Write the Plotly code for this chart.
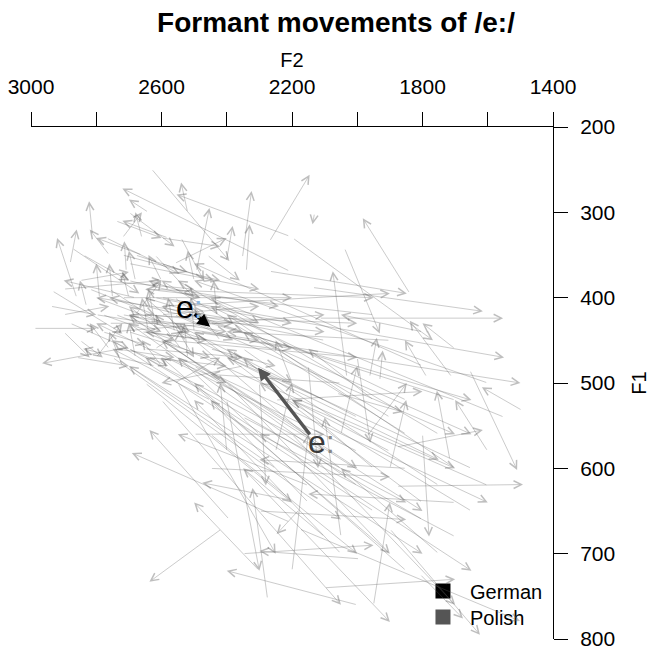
import plotly.graph_objects as go

title_text = "Formant movements of /e:/"
x_ticks = [3000, 2800, 2600, 2400, 2200, 2000, 1800, 1600, 1400]
x_tick_labels = ["3000", "", "2600", "", "2200", "", "1800", "", "1400"]
y_ticks = [200, 300, 400, 500, 600, 700, 800]

# individual German tokens: onset (F2, F1) -> offset (F2, F1)
german_f2_on = [2812, 2631, 2493, 2708, 2874, 2935, 2991, 2699, 2769, 2401, 2340, 2352, 2750, 2680, 2600, 2560,
                2850, 2700, 2620, 2780, 2540, 2660, 2500, 2800, 2720, 2580, 2650, 2600, 2900, 2760, 2700, 2540,
                2460, 2620, 2740, 2680, 2830, 2560, 2450, 2700, 2520, 2600, 2650, 2780, 2480, 2720, 2620, 2560,
                2850, 2700, 2600, 2760, 2500, 2430, 2880, 2640, 2580, 2760, 2420, 2680, 2560, 2720, 2800, 2640,
                2900, 2520, 2460, 2600, 2740, 2560, 2700, 2650, 2750, 2600, 2860, 2640,
                2820, 2780, 2700, 2660, 2880, 2740, 2600, 2840, 2560, 2720, 2680, 2620, 2790, 2500, 2940, 2860,
                2760, 2700, 2640, 2580, 2800, 2720, 2900, 2660, 2580, 2620, 2540, 2480, 2460, 2680]
german_f1_on = [326, 249, 369, 369, 342, 392, 436, 458, 330, 357, 369, 353, 400, 420, 440, 400,
                380, 460, 350, 440, 460, 330, 420, 470, 480, 470, 400, 380, 420, 350, 300, 330,
                400, 460, 420, 380, 410, 440, 460, 440, 300, 420, 460, 380, 440, 350, 400, 360,
                450, 400, 480, 460, 380, 420, 360, 440, 420, 390, 450, 350, 390, 420, 400, 470,
                440, 470, 350, 330, 310, 500, 420, 390, 440, 410, 400, 300,
                390, 420, 380, 440, 430, 460, 360, 350, 420, 330, 470, 430, 400, 440, 410, 470,
                430, 360, 420, 450, 420, 400, 390, 350, 330, 480, 420, 400, 450, 400]
german_f2_off = [2822, 2392, 2453, 2714, 2668, 2720, 2800, 2966, 2545, 2382, 2330, 2324, 2760, 2600, 2700, 2450,
                 2700, 2580, 2500, 2650, 2620, 2680, 2350, 2720, 2760, 2400, 2480, 2640, 2760, 2820, 2560, 2470,
                 2300, 2540, 2600, 2700, 2850, 2580, 2250, 2450, 2540, 2300, 2350, 2500, 2200, 2420, 2200, 2400,
                 2780, 2720, 2660, 2820, 2520, 2440, 2860, 2660, 2500, 2600, 2500, 2520, 2240, 2400, 2520, 2400,
                 2820, 2530, 2360, 2420, 2600, 2420, 2000, 1950, 2100, 1900, 2920, 2700,
                 2620, 2560, 2480, 2460, 2700, 2560, 2440, 2700, 2380, 2660, 2700, 2640, 2800, 2510, 2800, 2700,
                 2380, 2300, 2100, 2000, 2300, 2200, 2600, 2800, 2720, 2840, 2760, 2640, 2700, 2900]
german_f1_off = [287, 357, 295, 334, 395, 442, 436, 477, 372, 316, 314, 275, 360, 380, 410, 430,
                 370, 480, 400, 455, 420, 300, 440, 430, 440, 500, 420, 350, 410, 320, 340, 380,
                 430, 440, 440, 345, 380, 400, 480, 470, 265, 410, 470, 390, 460, 380, 430, 330,
                 470, 370, 450, 430, 345, 380, 320, 400, 470, 430, 410, 370, 410, 440, 440, 480,
                 470, 430, 380, 340, 330, 470, 430, 400, 420, 395, 330, 285,
                 420, 450, 400, 450, 460, 470, 380, 380, 450, 300, 430, 390, 360, 400, 420, 480,
                 430, 390, 440, 470, 450, 400, 380, 330, 310, 460, 400, 380, 420, 380]

# individual Polish tokens
polish_f2_on = [2207, 2207, 2269, 2131, 1839, 2039, 2269, 2137, 2116, 2198, 1710, 1787, 1962, 1931, 2032, 1495,
                1655, 1716, 1971, 2063, 1879, 1879, 2416, 2392, 2207, 2275, 1993, 2177, 2207, 2177, 1808, 1900,
                1800, 1700, 1900, 2000, 1750, 2100, 1850, 1950, 2050, 1650, 2150, 1800, 2250, 2000, 1900, 2100,
                2300, 1750, 2600, 2500, 2700, 2400, 2550, 2350, 2650, 2450, 2200, 2050, 1950, 2300, 2150, 1800,
                2400, 2000, 2300, 2450, 2350, 2100, 2500, 2250, 1850, 1700, 2000, 2150, 2050, 1900, 2100, 1950,
                2250, 2300, 2450, 2350, 1600,
                1700, 1600, 1550, 1650, 1800, 1850, 1950, 1750, 1600, 2050, 1900, 2000, 1700, 2150, 1850,
                2650, 2550, 2700, 2450, 2500, 2600, 2750, 2400, 2300, 2600, 2350, 2200, 2450, 2550, 2400,
                2300, 2100, 1950, 1800, 1700, 2200, 2050, 1900, 2250, 2350]
polish_f1_on = [369, 328, 334, 301, 395, 342, 369, 388, 424, 330, 493, 493, 493, 497, 493, 532,
                485, 590, 563, 512, 621, 575, 671, 660, 663, 753, 706, 648, 637, 671, 724, 671,
                640, 600, 700, 620, 560, 580, 520, 600, 700, 650, 560, 480, 600, 540, 580, 520,
                560, 700, 450, 480, 460, 500, 420, 540, 500, 430, 720, 680, 760, 500, 480, 560,
                580, 470, 650, 600, 700, 740, 560, 520, 600, 640, 760, 620, 500, 450, 450, 420,
                460, 430, 520, 480, 580,
                520, 500, 540, 600, 660, 720, 650, 620, 620, 600, 540, 580, 680, 640, 560,
                440, 470, 480, 520, 440, 400, 470, 470, 450, 520, 600, 560, 560, 500, 520,
                720, 680, 520, 440, 460, 500, 560, 600, 580, 460]
polish_f2_off = [2720, 2554, 2146, 2137, 1983, 1931, 1848, 1615, 1553, 1768, 1839, 1854, 1940, 1922, 2075, 1618,
                 1510, 1756, 1848, 1860, 1492, 1615, 2637, 2637, 2691, 2321, 2300, 2247, 2475, 1501, 1676, 1624,
                 2500, 2400, 2600, 2700, 2550, 2650, 2450, 2350, 2500, 2300, 2600, 2500, 2700, 2560, 2200, 2400,
                 2550, 2050, 2000, 1800, 2100, 1900, 1700, 1850, 2200, 1650, 2150, 2100, 1900, 2280, 2120, 1780,
                 2420, 1960, 1850, 1900, 1950, 1700, 2100, 1800, 2300, 2150, 2400, 2550, 2450, 2400, 2500, 2650,
                 2650, 2800, 2750, 2600, 1700,
                 2600, 2500, 2450, 2550, 2650, 2500, 2750, 2400, 2200, 2700, 2600, 2800, 2300, 2450, 2350,
                 1700, 1600, 1800, 1650, 1500, 1550, 2050, 1750, 1650, 2050, 1900, 1700, 2000, 2250, 2300,
                 2500, 2350, 2150, 2050, 1800, 2250, 2000, 1850, 2200, 2200]
polish_f1_off = [272, 279, 256, 314, 307, 442, 395, 416, 424, 450, 427, 450, 447, 462, 369, 505,
                 602, 509, 500, 534, 619, 555, 733, 555, 582, 623, 697, 677, 617, 779, 776, 795,
                 440, 420, 470, 430, 380, 400, 410, 470, 520, 500, 450, 360, 480, 430, 520, 470,
                 470, 600, 600, 650, 580, 700, 560, 640, 640, 520, 560, 540, 640, 620, 600, 680,
                 500, 570, 660, 610, 690, 730, 560, 510, 590, 630, 720, 560, 490, 440, 420, 390,
                 440, 400, 460, 500, 520,
                 410, 380, 400, 440, 470, 500, 450, 460, 520, 420, 380, 430, 560, 520, 440,
                 600, 640, 700, 720, 500, 470, 660, 590, 560, 760, 780, 760, 700, 700, 720,
                 640, 600, 460, 420, 430, 450, 480, 520, 500, 500]

# mean trajectories [onset, offset]
german_mean_f2 = [2503, 2451]
german_mean_f1 = [418, 434]
polish_mean_f2 = [2142, 2304]
polish_mean_f1 = [562, 482]

token_color = "rgba(95,95,95,0.40)"
german_color = "#000000"
polish_color = "#555555"

fig = go.Figure()

# legend entries (points lie outside the axis ranges, only the legends show them)
fig.add_trace(go.Scatter(x=[1000], y=[1000], mode="markers", name="German", legend="legend",
                         marker=dict(symbol="square", size=15, color=german_color)))
fig.add_trace(go.Scatter(x=[1000], y=[1000], mode="markers", name="Polish", legend="legend2",
                         marker=dict(symbol="square", size=15, color=polish_color)))

annotations = []


def add_arrows(f2a, f1a, f2b, f1b, color, width, head, size):
    for xs, ys, xe, ye in zip(f2a, f1a, f2b, f1b):
        annotations.append(dict(
            x=xe, y=ye, ax=xs, ay=ys, xref="x", yref="y", axref="x", ayref="y",
            text="", showarrow=True, arrowhead=head, arrowsize=size,
            arrowwidth=width, arrowcolor=color, standoff=0, startstandoff=0))


add_arrows(german_f2_on, german_f1_on, german_f2_off, german_f1_off, token_color, 0.8, 5, 1.9)
add_arrows(polish_f2_on, polish_f1_on, polish_f2_off, polish_f1_off, token_color, 0.8, 5, 1.9)

add_arrows([german_mean_f2[0]], [german_mean_f1[0]], [german_mean_f2[1]], [german_mean_f1[1]],
           german_color, 3.4, 2, 0.75)
add_arrows([polish_mean_f2[0]], [polish_mean_f1[0]], [polish_mean_f2[1]], [polish_mean_f1[1]],
           polish_color, 3.4, 2, 0.75)

# vowel labels at the onset of the mean trajectories
annotations.append(dict(
    x=german_mean_f2[0], y=german_mean_f1[0], xref="x", yref="y",
    text="e<span style='color:#8fb8de'>:</span>", showarrow=False,
    font=dict(size=32, color=german_color), xshift=-4, yshift=6))
annotations.append(dict(
    x=polish_mean_f2[0], y=polish_mean_f1[0], xref="x", yref="y",
    text="e<span style='color:#888888'>:</span>", showarrow=False,
    font=dict(size=32, color="#3a3a3a"), xshift=11, yshift=-6))

legend_common = dict(x=0.7375, xanchor="left", yanchor="middle",
                     font=dict(size=20), itemwidth=44, bgcolor="rgba(0,0,0,0)")

fig.update_layout(
    width=653, height=653,
    margin=dict(l=31, r=100, t=127, b=14, autoexpand=False),
    paper_bgcolor="white", plot_bgcolor="white",
    font=dict(family="Liberation Sans, Arial, sans-serif", color="black", size=20),
    title=dict(text="<b>" + title_text + "</b>", x=336 / 653, xanchor="center",
               y=1 - 22 / 653, yanchor="middle", font=dict(size=28)),
    xaxis=dict(range=[3000, 1400], side="top", tickvals=x_ticks, ticktext=x_tick_labels,
               ticks="outside", ticklen=14, tickwidth=1, tickcolor="black",
               showline=True, linecolor="black", linewidth=1, automargin=False,
               showgrid=False, zeroline=False, tickfont=dict(size=21),
               ticklabelstandoff=10,
               title=dict(text="F2", standoff=1, font=dict(size=20))),
    yaxis=dict(range=[800, 200], side="right", tickvals=y_ticks,
               ticks="outside", ticklen=14, tickwidth=1, tickcolor="black",
               showline=True, linecolor="black", linewidth=1, automargin=False,
               showgrid=False, zeroline=False, tickfont=dict(size=21),
               ticklabelstandoff=8,
               title=dict(text="F1", standoff=17, font=dict(size=20))),
    legend=dict(y=(639 - 591) / 512, **legend_common),
    legend2=dict(y=(639 - 617) / 512, **legend_common),
    showlegend=True,
    annotations=annotations,
)

fig.write_html("out.html")
